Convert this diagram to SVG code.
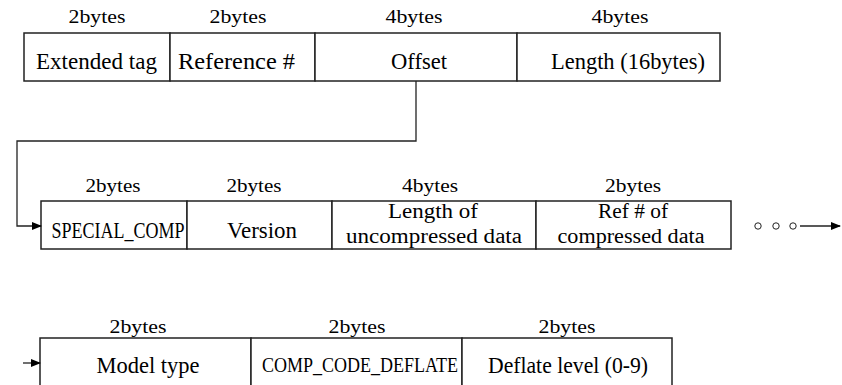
<svg xmlns="http://www.w3.org/2000/svg" width="842" height="385" viewBox="0 0 842 385">
<defs>
<style>
.cell{fill:#fff;stroke:#222;stroke-width:1.5}
.lbl{font-family:"Liberation Serif","Times New Roman",serif;font-size:18px;fill:#000;text-anchor:middle}
.txt{font-family:"Liberation Serif","Times New Roman",serif;font-size:23px;fill:#000;text-anchor:middle}
.txt2{font-family:"Liberation Serif","Times New Roman",serif;font-size:20px;fill:#000;text-anchor:middle}
.conn{fill:none;stroke:#222;stroke-width:1.3}
</style>
<marker id="ah" markerWidth="10" markerHeight="8" refX="9" refY="4" orient="auto" markerUnits="userSpaceOnUse">
<path d="M0,0 L10,4 L0,8 Z" fill="#000"/>
</marker>
</defs>
<rect width="842" height="385" fill="#fff"/>

<g id="row1">
<g id="extended-tag">
<rect class="cell" x="24" y="33" width="146" height="48"/>
<text class="lbl" x="97" y="23" textLength="57" lengthAdjust="spacingAndGlyphs">2bytes</text>
<text class="txt" x="96.5" y="69" textLength="121" lengthAdjust="spacingAndGlyphs">Extended tag</text>
</g>
<g id="reference">
<rect class="cell" x="170" y="33" width="145" height="48"/>
<text class="lbl" x="238" y="23" textLength="57" lengthAdjust="spacingAndGlyphs">2bytes</text>
<text class="txt" x="236.5" y="69" textLength="117" lengthAdjust="spacingAndGlyphs">Reference #</text>
</g>
<g id="offset">
<rect class="cell" x="315" y="33" width="202" height="48"/>
<text class="lbl" x="414" y="23" textLength="57" lengthAdjust="spacingAndGlyphs">4bytes</text>
<text class="txt" x="419" y="69" textLength="56" lengthAdjust="spacingAndGlyphs">Offset</text>
</g>
<g id="length">
<rect class="cell" x="517" y="33" width="203" height="48"/>
<text class="lbl" x="620" y="23" textLength="57" lengthAdjust="spacingAndGlyphs">4bytes</text>
<text class="txt" x="628" y="69" textLength="154" lengthAdjust="spacingAndGlyphs">Length (16bytes)</text>
</g>
</g>

<g id="row2">
<g id="special-comp">
<rect class="cell" x="41" y="201" width="146" height="48"/>
<text class="lbl" x="113" y="192" textLength="55" lengthAdjust="spacingAndGlyphs">2bytes</text>
<text class="txt" x="118" y="238" textLength="133" lengthAdjust="spacingAndGlyphs">SPECIAL_COMP</text>
</g>
<g id="version">
<rect class="cell" x="187" y="201" width="145" height="48"/>
<text class="lbl" x="254" y="192" textLength="55" lengthAdjust="spacingAndGlyphs">2bytes</text>
<text class="txt" x="262" y="238" textLength="70" lengthAdjust="spacingAndGlyphs">Version</text>
</g>
<g id="uncompressed-length">
<rect class="cell" x="332" y="201" width="204" height="48"/>
<text class="lbl" x="430" y="192" textLength="56" lengthAdjust="spacingAndGlyphs">4bytes</text>
<text class="txt2" x="433" y="218" textLength="90" lengthAdjust="spacingAndGlyphs">Length of</text>
<text class="txt2" x="434" y="243" textLength="176" lengthAdjust="spacingAndGlyphs">uncompressed data</text>
</g>
<g id="ref-compressed">
<rect class="cell" x="536" y="201" width="195" height="48"/>
<text class="lbl" x="633" y="192" textLength="56" lengthAdjust="spacingAndGlyphs">2bytes</text>
<text class="txt2" x="633" y="218" textLength="70" lengthAdjust="spacingAndGlyphs">Ref # of</text>
<text class="txt2" x="631" y="243" textLength="147" lengthAdjust="spacingAndGlyphs">compressed data</text>
</g>
<g id="ellipsis">
<circle cx="758" cy="226" r="3.2" fill="none" stroke="#222" stroke-width="1"/>
<circle cx="776" cy="226" r="3.2" fill="none" stroke="#222" stroke-width="1"/>
<circle cx="793" cy="226" r="3.2" fill="none" stroke="#222" stroke-width="1"/>
</g>
</g>

<g id="row3">
<g id="model-type">
<rect class="cell" x="40" y="338" width="211" height="70"/>
<text class="lbl" x="138" y="333" textLength="57" lengthAdjust="spacingAndGlyphs">2bytes</text>
<text class="txt" x="148" y="373" textLength="103" lengthAdjust="spacingAndGlyphs">Model type</text>
</g>
<g id="comp-code">
<rect class="cell" x="251" y="338" width="211" height="70"/>
<text class="lbl" x="357" y="333" textLength="57" lengthAdjust="spacingAndGlyphs">2bytes</text>
<text class="txt2" x="360" y="372" textLength="196" lengthAdjust="spacingAndGlyphs">COMP_CODE_DEFLATE</text>
</g>
<g id="deflate-level">
<rect class="cell" x="462" y="338" width="210" height="70"/>
<text class="lbl" x="567" y="333" textLength="57" lengthAdjust="spacingAndGlyphs">2bytes</text>
<text class="txt" x="568" y="373" textLength="160" lengthAdjust="spacingAndGlyphs">Deflate level (0-9)</text>
</g>
</g>

<g id="connectors">
<path class="conn" d="M416,81 V141 H17 V226 H41" marker-end="url(#ah)"/>
<path class="conn" d="M800,226 H840" marker-end="url(#ah)"/>
<path class="conn" d="M23,363 H40" marker-end="url(#ah)"/>
</g>
</svg>
